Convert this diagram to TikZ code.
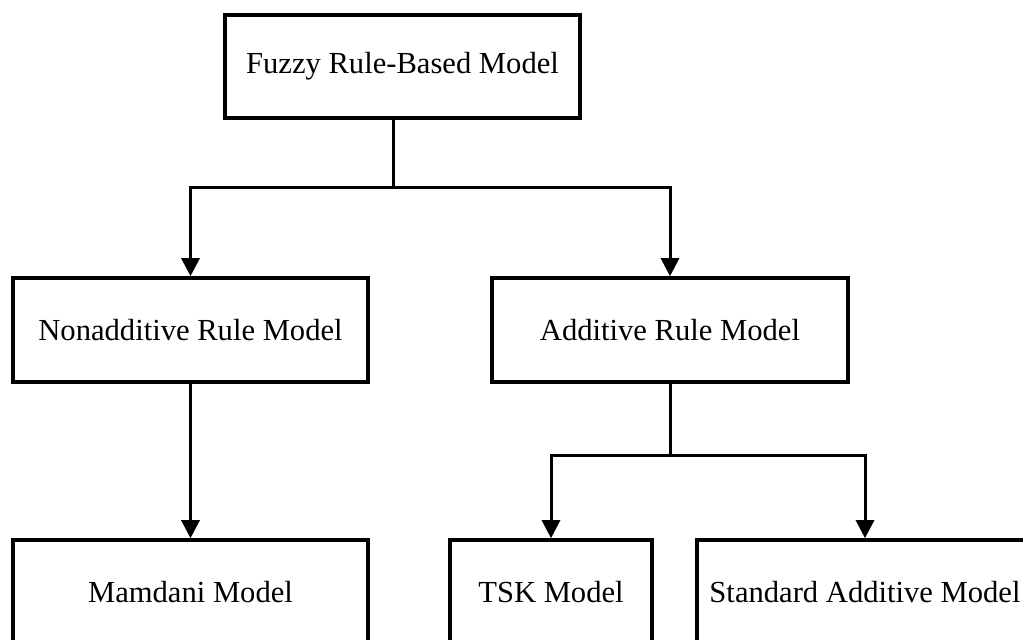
\documentclass[tikz,border=0pt]{standalone}
\usepackage{fontspec}
\setmainfont{Liberation Serif}
\usetikzlibrary{arrows.meta}

\tikzset{
  modelbox/.style={draw, line width=1.8pt, inner sep=0pt, minimum height=52pt,
    font=\fontsize{15.3}{18}\selectfont},
  conn/.style={line width=1.5pt},
  arr/.style={conn, -{Triangle[length=9pt,width=9pt]}}
}

\begin{document}
\begin{tikzpicture}[x=0.5pt,y=-0.5pt]
  \useasboundingbox (0,0) rectangle (1023,639);
  \clip (0,0) rectangle (1023,639);

  % top level
  \node[modelbox, minimum width=177.5pt, minimum height=51.5pt] (fuzzy) at (402.5,66.5) {Fuzzy Rule-Based Model};

  % second level
  \node[modelbox, minimum width=177.5pt] (nonadd) at (190.5,330) {Nonadditive Rule Model};
  \node[modelbox, minimum width=178pt] (add) at (670,330) {Additive Rule Model};

  % third level (runs off the page)
  \node[modelbox, minimum width=177.5pt] (mamdani) at (190.5,592) {Mamdani Model};
  \node[modelbox, minimum width=101pt] (tsk) at (551,592) {TSK Model};
  \node[modelbox, minimum width=168pt] (sam) at (865,592) {Standard Additive Model};

  \coordinate (split1) at (393,187);
  \coordinate (split2) at (670,455);

  \draw[conn] (split1 |- fuzzy.south) -- (split1);
  \draw[arr] (split1) -| (nonadd);
  \draw[arr] (split1) -| (add);

  \draw[arr] (nonadd) -- (mamdani);

  \draw[conn] (add) -- (split2);
  \draw[arr] (split2) -| (tsk);
  \draw[arr] (split2) -| (sam);

\end{tikzpicture}
\end{document}
